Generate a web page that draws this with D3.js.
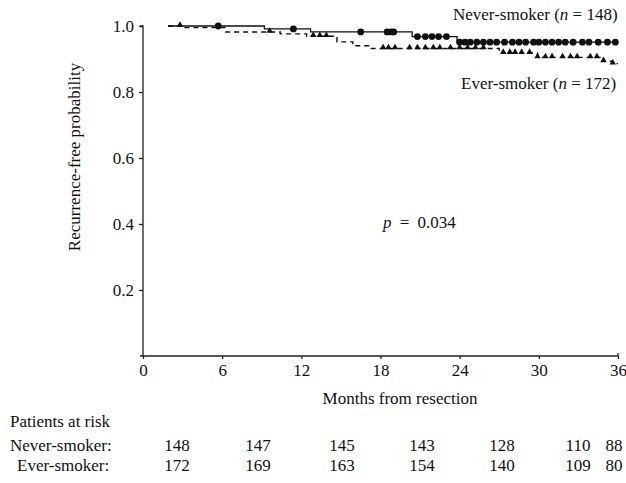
<!DOCTYPE html>
<html>
<head>
<meta charset="utf-8">
<script src="https://cdn.jsdelivr.net/npm/d3@7"></script>
<style>
  body { margin: 0; background: #fff; }
  svg text { font-family: "Liberation Serif", "DejaVu Serif", serif; fill: #111; }
</style>
</head>
<body>
<svg id="chart" width="626" height="483"></svg>
<script>
// step curves: [month, survival] at each drop
var neverSteps = [[1.9, 1.0], [9.2, 0.991], [12.7, 0.982], [20.4, 0.968], [23.8, 0.951], [36, 0.951]];
var everSteps = [[1.9, 1.0], [3.0, 0.995], [6.2, 0.982], [10.4, 0.976], [12.4, 0.969], [14.7, 0.952],
  [15.9, 0.940], [17.2, 0.932], [27.0, 0.918], [29.9, 0.905], [34.9, 0.893], [35.6, 0.886], [36, 0.886]];

// censor marks (months)
var neverCensored = [5.7, 11.4, 16.5, 18.5, 18.8, 19.0, 20.8, 21.4, 21.9, 22.4, 23.0, 24.0, 24.4, 24.8,
  25.3, 25.8, 26.3, 26.8, 27.4, 28.0, 28.5, 29.0, 29.6, 30.0, 30.5, 31.0, 31.5, 32.0, 32.6, 33.3, 33.8, 34.5, 35.2, 35.8];
var everCensored = [2.8, 9.6, 12.9, 13.4, 13.9, 18.2, 18.6, 19.1, 20.2, 20.8, 21.4, 22.0, 22.5, 23.3, 24.0, 24.6,
  25.2, 25.8, 27.3, 27.8, 28.2, 28.7, 29.3, 29.9, 30.5, 31.0, 31.8, 32.4, 32.9, 33.9, 34.4, 34.9, 35.6];

var xTicks = [0, 6, 12, 18, 24, 30, 36];
var yTicks = [0.2, 0.4, 0.6, 0.8, 1.0];
var neverAtRisk = [148, 147, 145, 143, 128, 110, 88];
var everAtRisk = [172, 169, 163, 154, 140, 109, 80];

var fs = '17px';
var svg = d3.select('#chart');
var x = d3.scaleLinear().domain([0, 36]).range([143, 618]);
var y = d3.scaleLinear().domain([0, 1]).range([356, 26]);

// axes
var yAxis = d3.axisLeft(y).tickValues(yTicks).tickSize(4).tickPadding(5).tickFormat(d3.format('.1f'));
var gy = svg.append('g').attr('transform', 'translate(143,0)').call(yAxis);
gy.select('.domain').attr('d', 'M-3,26H0V356');
var xAxis = d3.axisBottom(x).tickValues(xTicks).tickSize(3).tickPadding(5).tickFormat(d3.format('d'));
var gx = svg.append('g').attr('transform', 'translate(0,356)').call(xAxis);
gx.select('.domain').attr('d', 'M140,0H618V-3');
svg.selectAll('.tick text').style('font-size', fs).style('font-family', '"Liberation Serif", serif');
svg.selectAll('.domain, .tick line').attr('stroke', '#222').attr('stroke-width', 1.3);

// curves
var line = d3.line().x(function(d) { return x(d[0]); }).y(function(d) { return y(d[1]); }).curve(d3.curveStepAfter);
svg.append('path').datum(neverSteps).attr('d', line)
  .attr('fill', 'none').attr('stroke', '#111').attr('stroke-width', 1.3);
svg.append('path').datum(everSteps).attr('d', line)
  .attr('fill', 'none').attr('stroke', '#111').attr('stroke-width', 1.4).attr('stroke-dasharray', '5,4');

// value of step curve at t
function stepAt(steps, t) {
  var v = steps[0][1];
  steps.forEach(function(s) { if (s[0] <= t) v = s[1]; });
  return v;
}

svg.selectAll('.cn').data(neverCensored).enter().append('path')
  .attr('d', d3.symbol().type(d3.symbolCircle).size(36))
  .attr('transform', function(d) { return 'translate(' + x(d) + ',' + y(stepAt(neverSteps, d)) + ')'; })
  .attr('fill', '#111');
svg.selectAll('.ce').data(everCensored).enter().append('path')
  .attr('d', d3.symbol().type(d3.symbolTriangle).size(18))
  .attr('transform', function(d) { return 'translate(' + x(d) + ',' + (y(stepAt(everSteps, d)) - 1) + ')'; })
  .attr('fill', '#111');

// labels
function label(txt, nTxt, px, py) {
  var t = svg.append('text').attr('x', px).attr('y', py).style('font-size', fs);
  t.append('tspan').text(txt + ' (');
  t.append('tspan').text('n').style('font-style', 'italic');
  t.append('tspan').text(' = ' + nTxt + ')');
}
label('Never-smoker', 148, 453, 20);
label('Ever-smoker', 172, 461, 89);

var pt = svg.append('text').attr('x', 383).attr('y', 228).style('font-size', fs).style('word-spacing', '4px');
pt.append('tspan').text('p').style('font-style', 'italic');
pt.append('tspan').text(' = 0.034');

svg.append('text').attr('transform', 'translate(80,157) rotate(-90)').attr('text-anchor', 'middle')
  .style('font-size', fs).text('Recurrence-free probability');
svg.append('text').attr('x', 400).attr('y', 404).attr('text-anchor', 'middle')
  .style('font-size', fs).text('Months from resection');

// patients at risk
var riskX = d3.scaleLinear().domain(xTicks).range([177, 258, 342, 422, 502, 578, 614]);
svg.append('text').attr('x', 10).attr('y', 427).style('font-size', fs).text('Patients at risk');
svg.append('text').attr('x', 10).attr('y', 451).style('font-size', fs).text('Never-smoker:');
svg.append('text').attr('x', 17).attr('y', 471).style('font-size', fs).text('Ever-smoker:');
svg.selectAll('.rn').data(neverAtRisk).enter().append('text')
  .attr('x', function(d, i) { return riskX(xTicks[i]); }).attr('y', 451)
  .attr('text-anchor', 'middle').style('font-size', fs).text(function(d) { return d; });
svg.selectAll('.re').data(everAtRisk).enter().append('text')
  .attr('x', function(d, i) { return riskX(xTicks[i]); }).attr('y', 471)
  .attr('text-anchor', 'middle').style('font-size', fs).text(function(d) { return d; });
</script>
</body>
</html>
